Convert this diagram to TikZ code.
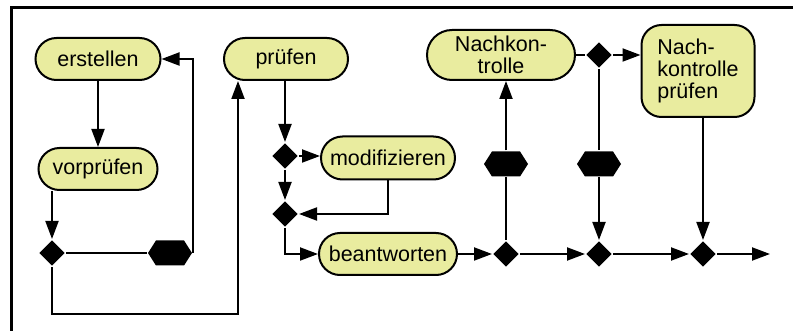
\documentclass[tikz,border=0pt]{standalone}
\usepackage{fontspec}
\setmainfont{Liberation Sans}
\usepackage{tikz}
\usetikzlibrary{positioning,shapes.geometric,shapes.misc,shapes.symbols,arrows.meta}
\definecolor{actfill}{RGB}{233,236,159}

\begin{document}
\begin{tikzpicture}[
  x=1pt, y=-1pt,
  line width=2pt,
  font=\fontsize{21.5}{22}\selectfont,
  act/.style={draw,fill=actfill,rounded rectangle,minimum height=42pt,inner sep=2pt},
  dec/.style={diamond,fill=black,minimum width=26pt,minimum height=26pt,inner sep=0pt},
  fork/.style={signal,signal to=east and west,signal pointer angle=115,fill=black,
    minimum width=44pt,minimum height=25pt,inner sep=0pt},
  arr/.style={-{Triangle[length=18pt,width=13pt]}}
]
\useasboundingbox (0,0) rectangle (793,331);
\draw[line width=3pt] (11,331) -- (11,8) -- (793,8);

\node[act, minimum width=129pt] (erst) at (98,59) {erstellen};
\node[act, minimum width=123pt] (vorp) at (98,169) {vorprüfen};
\node[dec] (d1) at (52,253) {};
\node[fork] (h1) at (170,253) {};
\node[act, minimum width=128pt] (pruef) at (286,59) {prüfen};
\node[dec] (d2) at (285,156) {};
\node[act, minimum width=138pt, minimum height=43pt] (modi) at (388,158) {modifizieren};
\node[dec] (d3) at (285,214) {};
\node[act, minimum width=142pt] (beant) at (388,254) {beantworten};
\node[dec] (d4) at (506,254) {};
\node[fork] (h2) at (506,164) {};
\node[act, minimum width=152pt, minimum height=50pt, align=center] (nk) at (501,55) {Nachkon-\\trolle};
\node[dec] (d5) at (599,55) {};
\node[draw, fill=actfill, rounded corners=20pt, minimum width=113pt, minimum height=92pt,
  align=left] (nkp) at (698,71) {Nach-\\kontrolle\\prüfen};
\node[fork] (h3) at (599,164) {};
\node[dec] (d6) at (599,254) {};
\node[dec] (d7) at (703,254) {};
\coordinate (out) at (770,254);
\coordinate (low) at (238,314);

\draw[arr] (erst) -- (vorp);
\draw[arr] (vorp.south -| d1) -- (d1.north);
\draw (d1) -- (h1);
\draw[arr] (h1.east) -- (h1.east |- erst.east) -- (erst.east);
\draw[arr] (d1.south) |- (low) -- (low |- pruef.south);
\draw[arr] (pruef.south -| d2) -- (d2.north);
\draw[arr] (d2) -- (d2 -| modi.west);
\draw[arr] (d2.south) -- (d3.north);
\draw[arr] (modi.south) |- (d3.east);
\draw[arr] (d3.south) |- (beant.west);
\draw[arr] (beant.east) -- (d4.west);
\draw (d4.north) -- (h2.south);
\draw[arr] (h2.north) -- (h2.north |- nk.south);
\draw (nk.east) -- (d5.west);
\draw[arr] (d5.east) -- (d5 -| nkp.west);
\draw (d5.south) -- (h3.north);
\draw[arr] (h3.south) -- (d6.north);
\draw[arr] (nkp.south -| d7) -- (d7.north);
\draw[arr] (d4.east) -- (d6.west);
\draw[arr] (d6.east) -- (d7.west);
\draw[arr] (d7.east) -- (out);
\end{tikzpicture}
\end{document}
